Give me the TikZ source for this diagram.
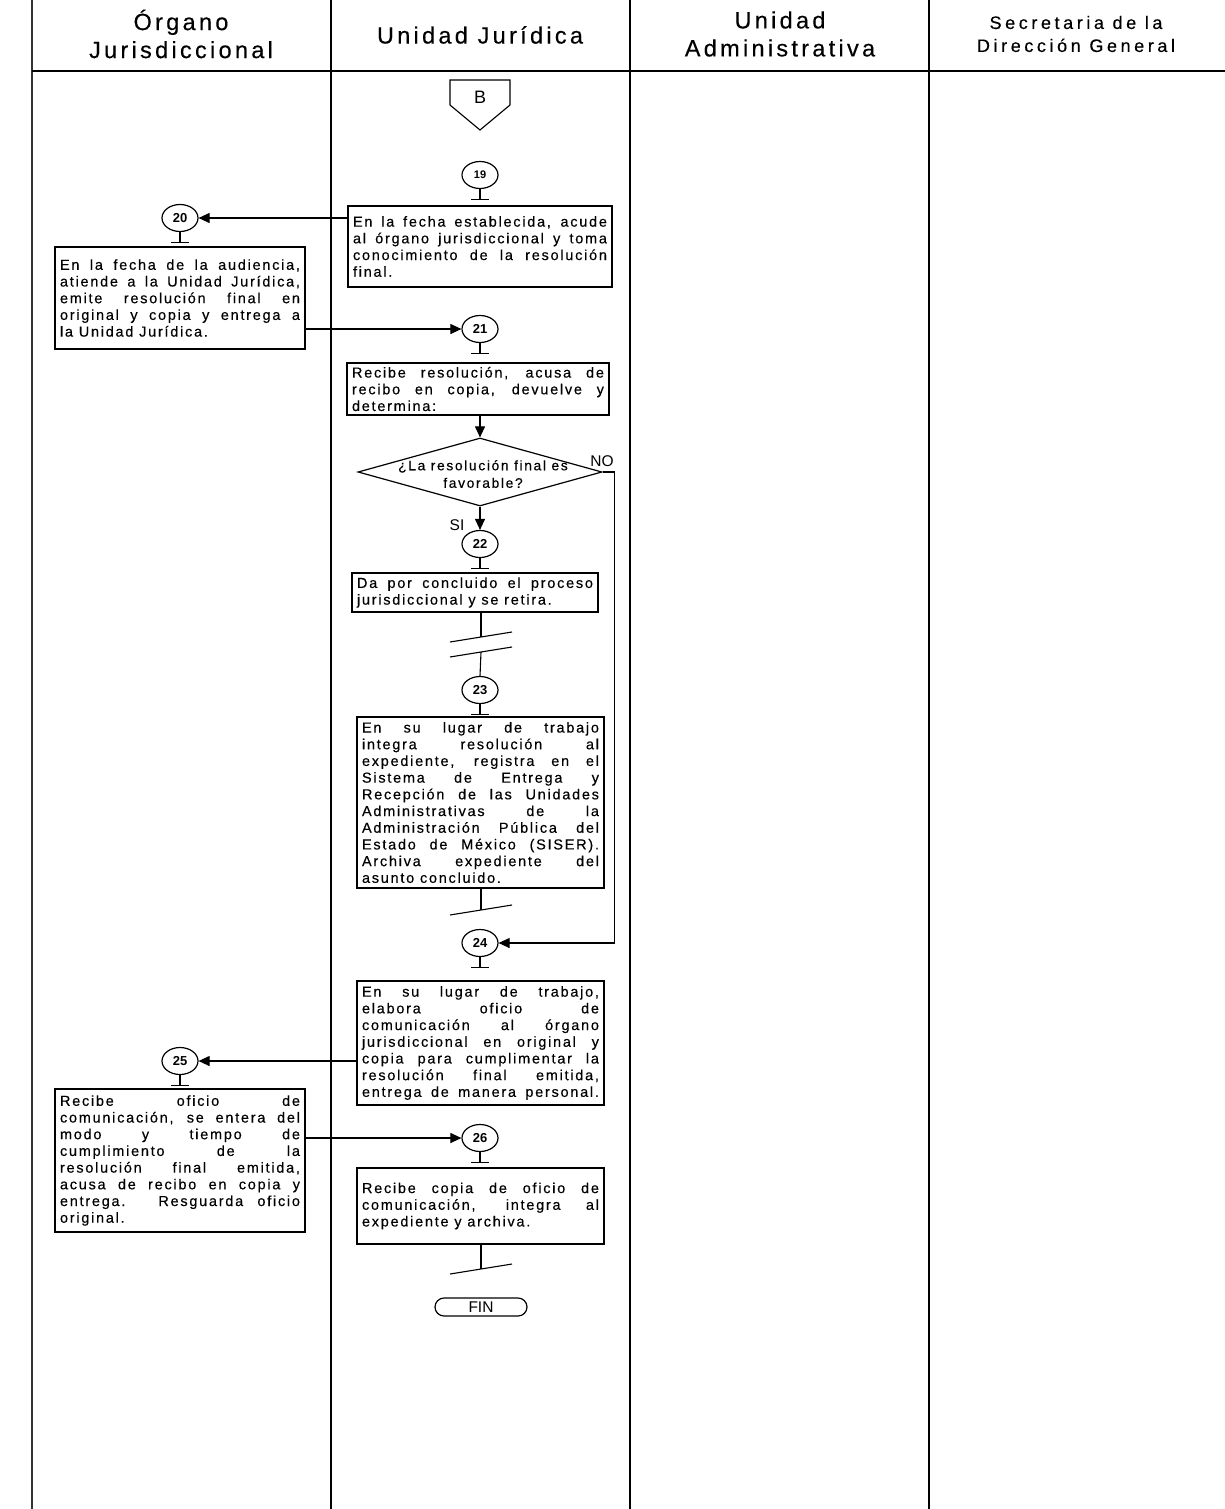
\documentclass[tikz,border=0pt]{standalone}
\usepackage{fontspec}
\setmainfont{Liberation Sans}
\newfontfamily\bodyfont[LetterSpace=12,FakeBold=0.3]{Liberation Sans}
\newfontfamily\headfont[LetterSpace=14,FakeBold=0.3]{Liberation Sans}
\newfontfamily\smallheadfont[LetterSpace=20,FakeBold=0.3]{Liberation Sans}
\usetikzlibrary{shapes.geometric,arrows.meta}

% one fully justified line / one ragged closing line of a step text
\newcommand\jl[1]{\hbox to\hsize{#1}}
\newcommand\lastln[1]{\hbox{#1}}
\newcommand\steptext[2]{\parbox{#1}{\bodyfont\fontsize{14.5}{16.7}\selectfont #2}}
% connector stem with its small crossbar under a numbered ellipse
\newcommand\stem[1]{%
  \draw[flow] (#1.south) -- ++(0,10) coordinate (#1-bar);
  \draw[flow] ([xshift=-9pt]#1-bar) -- ([xshift=9pt]#1-bar);}

\tikzset{
  lane/.style={line width=1.4pt},
  flow/.style={line width=1.1pt},
  stepbox/.style={draw, line width=1.2pt, rectangle, inner sep=0pt},
  num/.style={draw, ellipse, line width=1.2pt, minimum width=36pt, minimum height=27pt,
              inner sep=0pt, font=\fontsize{13}{13}\selectfont\bfseries},
  arr/.style={line width=1.1pt, -{Triangle[length=11pt,width=10pt]}},
  head/.style={align=center, font=\headfont\fontsize{23.5}{28}\selectfont},
  lbl/.style={inner sep=0pt, font=\fontsize{15.5}{15.5}\selectfont},
}

\begin{document}
\begin{tikzpicture}[x=1pt,y=-1pt]
\useasboundingbox (0,0) rectangle (1225,1509);
\fill[white] (0,0) rectangle (1225,1509);

% swimlanes
\draw[lane, black!80, line width=2pt] (32,0) -- (32,1509);
\draw[lane] (331,0) -- (331,1509);
\draw[lane] (630,0) -- (630,1509);
\draw[lane] (929,0) -- (929,1509);
\draw[lane, line width=1.8pt] (32,71) -- (1225,71);

% lane headings
\node[head] (h1) at (181,34) {Órgano\\Jurisdiccional};
\node[head] (h2) at (480,35) {Unidad Jurídica};
\node[head] (h3) at (780,34) {Unidad\\Administrativa};
\node[head, font=\smallheadfont\fontsize{18}{23}\selectfont] (h4) at (1076,34) {Secretaria de la\\Dirección General};

% off-page connector B
\draw[flow] (450,80) -- (510,80) -- (510,105) -- (480,130) -- (450,105) -- cycle;
\node[font=\fontsize{18}{18}\selectfont] (offB) at (480,97) {B};

% numbered ellipses
\node[num, font=\fontsize{11}{11}\selectfont\bfseries] (e19) at (480,175) {19};
\node[num] (e20) at (180,218) {20};
\node[num] (e21) at (480,329) {21};
\node[num] (e22) at (480,544) {22};
\node[num] (e23) at (480,690) {23};
\node[num] (e24) at (480,943) {24};
\node[num] (e25) at (180,1061) {25};
\node[num] (e26) at (480,1138) {26};
\stem{e19}\stem{e20}\stem{e21}\stem{e22}\stem{e23}\stem{e24}\stem{e25}\stem{e26}

% steps
\node[stepbox, minimum width=264pt, minimum height=81pt] (b19) at (480,246.5) {\steptext{254pt}{%
  \jl{En la fecha establecida, acude}
  \jl{al órgano jurisdiccional y toma}
  \jl{conocimiento de la resolución}
  \lastln{final.}}};

\node[stepbox, minimum width=250pt, minimum height=102pt] (b20) at (180,298) {\steptext{240pt}{%
  \jl{En la fecha de la audiencia,}
  \jl{atiende a la Unidad Jurídica,}
  \jl{emite resolución final en}
  \jl{original y copia y entrega a}
  \lastln{la Unidad Jurídica.}}};

\node[stepbox, minimum width=262pt, minimum height=52pt] (b21) at (478,389) {\steptext{252pt}{%
  \jl{Recibe resolución, acusa de}
  \jl{recibo en copia, devuelve y}
  \lastln{determina:}}};

\node[draw, diamond, line width=1.2pt, minimum width=244pt, minimum height=68pt, inner sep=0pt] (d) at (480,472) {};
\node[align=center, font=\bodyfont\fontsize{13.8}{17.5}\selectfont] (dq) at (483,474) {¿La resolución final es\\favorable?};

\node[stepbox, minimum width=246pt, minimum height=39pt] (b22) at (475,592.5) {\steptext{236pt}{%
  \jl{Da por concluido el proceso}
  \lastln{jurisdiccional y se retira.}}};

\node[stepbox, minimum width=247pt, minimum height=171pt] (b23) at (480.5,802.5) {\steptext{237pt}{%
  \jl{En su lugar de trabajo}
  \jl{integra resolución al}
  \jl{expediente, registra en el}
  \jl{Sistema de Entrega y}
  \jl{Recepción de las Unidades}
  \jl{Administrativas de la}
  \jl{Administración Pública del}
  \jl{Estado de México (SISER).}
  \jl{Archiva expediente del}
  \lastln{asunto concluido.}}};

\node[stepbox, minimum width=247pt, minimum height=124pt] (b24) at (480.5,1043) {\steptext{237pt}{%
  \jl{En su lugar de trabajo,}
  \jl{elabora oficio de}
  \jl{comunicación al órgano}
  \jl{jurisdiccional en original y}
  \jl{copia para cumplimentar la}
  \jl{resolución final emitida,}
  \jl{entrega de manera personal.}}};

\node[stepbox, minimum width=250pt, minimum height=143pt] (b25) at (180,1160.5) {\steptext{240pt}{%
  \jl{Recibe oficio de}
  \jl{comunicación, se entera del}
  \jl{modo y tiempo de}
  \jl{cumplimiento de la}
  \jl{resolución final emitida,}
  \jl{acusa de recibo en copia y}
  \jl{entrega. Resguarda oficio}
  \lastln{original.}}};

\node[stepbox, minimum width=247pt, minimum height=76pt] (b26) at (480.5,1206) {\steptext{237pt}{%
  \jl{Recibe copia de oficio de}
  \jl{comunicación, integra al}
  \lastln{expediente y archiva.}}};

\node[draw, line width=1.2pt, rounded corners=9pt, minimum width=92pt, minimum height=18pt,
      inner sep=0pt, font=\fontsize{15.5}{15.5}\selectfont] (fin) at (481,1307) {FIN};

% connectors
\draw[arr] (b19.west |- e20.east) -- (e20.east);
\draw[arr] (b20.east |- e21.west) -- (e21.west);
\draw[arr] (b21.south -| d.north) -- (d.north);
\draw[arr] (d.south) -- (e22.north);
\draw[arr] (d.east) -- ++(12,0) |- (e24.east);
\draw[arr] (b24.west |- e25.east) -- (e25.east);
\draw[arr] (b25.east |- e26.west) -- (e26.west);

\node[lbl] (si) at (457,525) {SI};
\node[lbl] (no) at (602,461) {NO};

% interruption and end marks
\coordinate (k1) at (481,637);
\coordinate (k2) at (481,652);
\coordinate (k3) at (481,910);
\coordinate (k4) at (481,1269);
\draw[flow] (b22.south -| k1) -- (k1);
\draw[flow] (k2) -- (e23.north);
\draw[flow] (b23.south -| k3) -- (k3);
\draw[flow] (b26.south -| k4) -- (k4);
\foreach \k in {k1,k2,k3,k4}
  \draw[flow] ([shift={(-31,5)}]\k) -- ([shift={(31,-5)}]\k);
\end{tikzpicture}
\end{document}
